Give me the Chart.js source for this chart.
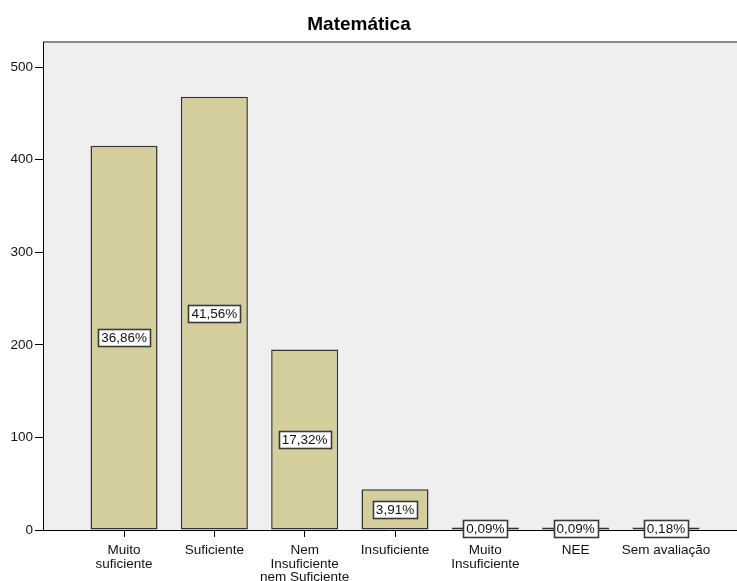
<!DOCTYPE html>
<html>
<head>
<meta charset="utf-8">
<script src="https://cdn.jsdelivr.net/npm/chart.js@4/dist/chart.umd.min.js"></script>
<style>
  html, body { margin: 0; padding: 0; background: #ffffff; }
  #wrap { width: 737px; height: 581px; position: relative; }
</style>
</head>
<body>
<div id="wrap"><canvas id="c" width="737" height="581"></canvas></div>
<script>
// Matemática — frequency of each grade category
const chartTitle = 'Matemática';
const categories = [
  ['Muito', 'suficiente'],
  ['Suficiente'],
  ['Nem', 'Insuficiente', 'nem Suficiente'],
  ['Insuficiente'],
  ['Muito', 'Insuficiente'],
  ['NEE'],
  ['Sem avaliação']
];
const counts = [415, 468, 195, 44, 1, 1, 2];
const yTicks = [0, 100, 200, 300, 400, 500];

const total = counts.reduce((a, b) => a + b, 0);
const FONT = "'Liberation Sans', Arial, sans-serif";

// plot background, frame top line and title
const frame = {
  id: 'frame',
  beforeDraw(chart) {
    const { ctx, chartArea: a } = chart;
    ctx.save();
    ctx.fillStyle = '#efefef';
    ctx.fillRect(a.left, a.top, a.right - a.left, a.bottom - a.top);
    ctx.strokeStyle = '#8a8a8a';
    ctx.lineWidth = 2;
    ctx.beginPath();
    ctx.moveTo(a.left, a.top);
    ctx.lineTo(a.right, a.top);
    ctx.stroke();
    ctx.restore();
  },
  afterDraw(chart) {
    const { ctx } = chart;
    ctx.save();
    ctx.fillStyle = '#000';
    ctx.font = 'bold 19px ' + FONT;
    ctx.textAlign = 'center';
    ctx.textBaseline = 'middle';
    ctx.fillText(chartTitle, 359, 25);
    ctx.restore();
  }
};

// percentage boxes at the middle of each bar
const pctBoxes = {
  id: 'pctBoxes',
  afterDatasetsDraw(chart) {
    const { ctx } = chart;
    const meta = chart.getDatasetMeta(0);
    ctx.save();
    ctx.font = '13.5px ' + FONT;
    ctx.textAlign = 'center';
    ctx.textBaseline = 'middle';
    meta.data.forEach((bar, i) => {
      const txt = (counts[i] / total * 100).toFixed(2).replace('.', ',') + '%';
      const w = Math.round(ctx.measureText(txt).width + 6);
      const h = 17;
      const cx = bar.x;
      const cy = (bar.y + bar.base) / 2;
      const x0 = Math.round(cx - w / 2) + 0.5;
      const y0 = Math.round(cy - h / 2) + 0.5;
      ctx.fillStyle = '#ffffff';
      ctx.fillRect(x0, y0, w, h);
      ctx.strokeStyle = '#3a3a3a';
      ctx.lineWidth = 1.6;
      ctx.strokeRect(x0, y0, w, h);
      ctx.fillStyle = '#111';
      ctx.fillText(txt, cx, cy + 1);
    });
    ctx.restore();
  }
};

new Chart(document.getElementById('c'), {
  type: 'bar',
  data: {
    datasets: [{
      data: counts.map((v, i) => ({ x: i, y: v })),
      backgroundColor: '#d3ce9b',
      borderColor: '#333333',
      borderWidth: 1.5,
      borderSkipped: false,
      minBarLength: 2.5,
      barPercentage: 0.742,
      categoryPercentage: 1
    }]
  },
  options: {
    responsive: false,
    animation: false,
    events: [],
    layout: { padding: { top: 42, right: 0, left: 0, bottom: 0 } },
    plugins: { legend: { display: false }, title: { display: false }, tooltip: { enabled: false } },
    scales: {
      x: {
        type: 'linear',
        offset: false,
        min: -0.897,
        max: 6.786,
        afterBuildTicks(scale) { scale.ticks = categories.map((_, i) => ({ value: i })); },
        afterFit(scale) { scale.height = 51; },
        grid: { offset: false, drawOnChartArea: false, drawTicks: true, tickLength: 7, color: '#000', lineWidth: 1 },
        border: { display: true, color: '#000', width: 1 },
        ticks: {
          autoSkip: false,
          maxRotation: 0,
          padding: 6,
          color: '#111',
          font: { family: FONT, size: 13.5, lineHeight: 1.03 },
          callback: (v) => categories[v]
        }
      },
      y: {
        min: 0,
        max: 527,
        afterBuildTicks(scale) { scale.ticks = yTicks.map(v => ({ value: v })); },
        afterFit(scale) { scale.width = 43; },
        grid: { drawOnChartArea: false, drawTicks: true, tickLength: 8, color: '#000', lineWidth: 1 },
        border: { display: true, color: '#000', width: 1 },
        ticks: {
          padding: 2,
          color: '#111',
          font: { family: FONT, size: 13.5 },
          callback: (v) => String(v)
        }
      }
    }
  },
  plugins: [frame, pctBoxes]
});
</script>
</body>
</html>
